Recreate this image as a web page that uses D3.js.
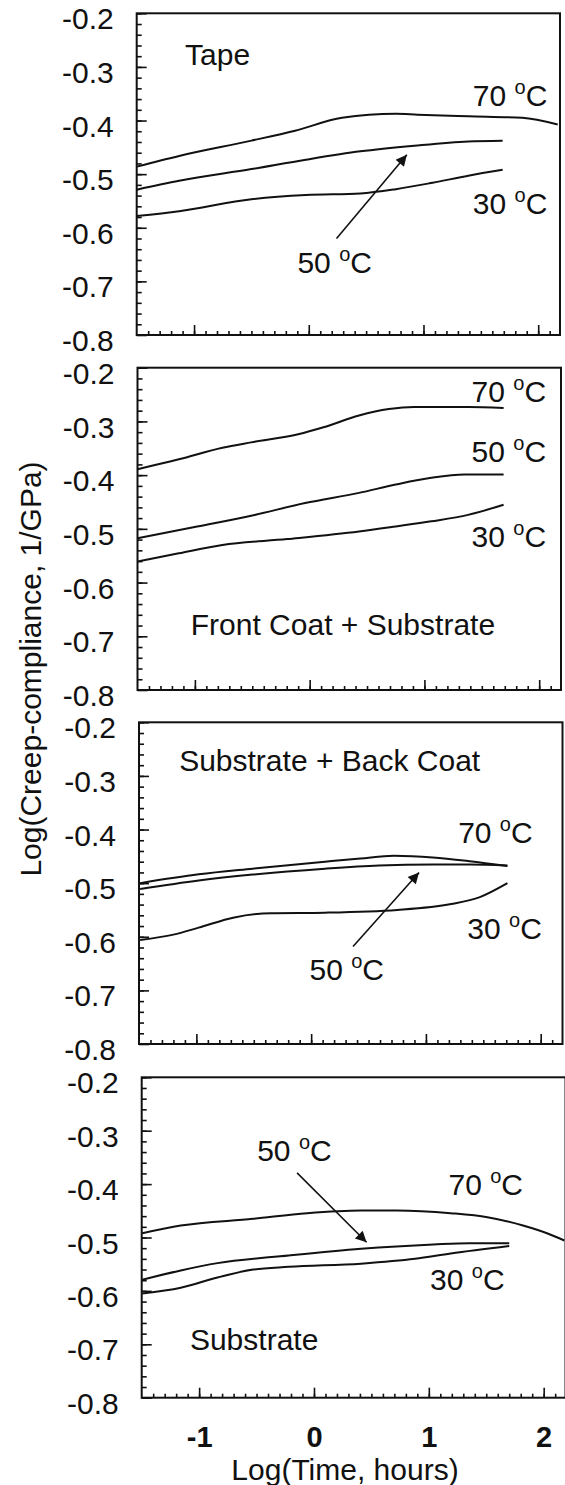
<!DOCTYPE html>
<html>
<head>
<meta charset="utf-8">
<script src="https://cdn.jsdelivr.net/npm/d3@7"></script>
<style>
  body { margin: 0; background: #fff; }
  svg text { font-family: "Liberation Sans", Arial, sans-serif; fill: #111; }
</style>
</head>
<body>
<svg id="chart" width="565" height="1485"></svg>
<script>
// data: [log time (h), log creep compliance (1/GPa)]
var panelNames = ["Tape", "Front Coat + Substrate", "Substrate + Back Coat", "Substrate"];
var temps = ["30", "50", "70"];
var xTicks = [-1, 0, 1, 2];
var yTicks = [-0.8, -0.7, -0.6, -0.5, -0.4, -0.3, -0.2];

var tape30 = [[-1.5,-0.578],[-1.13,-0.569],[-0.5,-0.547],[-0.025,-0.539],[0.45,-0.536],[0.76,-0.528],[1.08,-0.516],[1.39,-0.503],[1.69,-0.492]];
var tape50 = [[-1.5,-0.529],[-1.13,-0.5125],[-0.5,-0.4906],[-0.025,-0.473],[0.45,-0.4575],[0.92,-0.447],[1.39,-0.439],[1.69,-0.4375]];
var tape70 = [[-1.5,-0.486],[-1.13,-0.466],[-0.5,-0.4375],[-0.12,-0.419],[0.29,-0.395],[0.76,-0.3875],[0.95,-0.389],[1.39,-0.392],[1.86,-0.395],[2.17,-0.4075]];

var front30 = [[-1.5,-0.561],[-1.14,-0.5456],[-0.76,-0.53],[-0.195,-0.519],[0.43,-0.505],[0.75,-0.4956],[1.06,-0.486],[1.38,-0.474],[1.69,-0.455]];
var front50 = [[-1.5,-0.5175],[-0.98,-0.4956],[-0.51,-0.4756],[-0.04,-0.452],[0.43,-0.433],[0.75,-0.4175],[1.06,-0.405],[1.35,-0.399],[1.69,-0.399]];
var front70 = [[-1.5,-0.389],[-1.14,-0.3706],[-0.76,-0.349],[-0.51,-0.339],[-0.1,-0.324],[0.12,-0.311],[0.43,-0.289],[0.69,-0.277],[0.91,-0.273],[1.38,-0.273],[1.69,-0.275]];

var back30 = [[-1.49,-0.606],[-1.2,-0.596],[-0.98,-0.583],[-0.67,-0.564],[-0.35,-0.556],[0.12,-0.555],[0.75,-0.55],[1.22,-0.539],[1.47,-0.526],[1.71,-0.5]];
var back50 = [[-1.49,-0.511],[-0.98,-0.495],[-0.51,-0.484],[0.12,-0.473],[0.59,-0.467],[1.06,-0.465],[1.38,-0.465],[1.71,-0.467]];
var back70 = [[-1.49,-0.5],[-0.98,-0.4836],[-0.51,-0.473],[0.12,-0.46],[0.43,-0.454],[0.72,-0.449],[1.06,-0.452],[1.38,-0.459],[1.71,-0.468]];

var sub30 = [[-1.495,-0.605],[-1.16,-0.594],[-0.84,-0.575],[-0.53,-0.56],[-0.22,-0.555],[0.41,-0.549],[0.88,-0.54],[1.19,-0.53],[1.7,-0.516]];
var sub50 = [[-1.495,-0.579],[-1.16,-0.5617],[-0.84,-0.548],[-0.22,-0.5336],[0.41,-0.521],[1.04,-0.513],[1.35,-0.5106],[1.7,-0.5106]];
var sub70 = [[-1.495,-0.492],[-1.16,-0.4776],[-0.53,-0.465],[-0.06,-0.4545],[0.41,-0.4495],[0.72,-0.4495],[1.19,-0.4545],[1.51,-0.462],[1.82,-0.4776],[2.04,-0.493],[2.18,-0.5056]];

var curves = [[tape30, tape50, tape70], [front30, front50, front70], [back30, back50, back70], [sub30, sub50, sub70]];

// label placement in data units, per panel
var titlePos = [[-1.078,-0.297,"start"], [0.29,-0.698,"middle"], [-1.15,-0.291,"start"], [-1.08,-0.711,"start"]];
var tempPos = [
  [[2.08,-0.575,"end"], [0.226,-0.684,"middle"], [2.08,-0.372,"end"]],
  [[2.06,-0.533,"end"], [2.06,-0.375,"end"], [2.06,-0.263,"end"]],
  [[2.01,-0.605,"end"], [0.31,-0.68,"middle"], [1.93,-0.4245,"end"]],
  [[1.66,-0.598,"end"], [-0.17,-0.356,"middle"], [1.82,-0.42,"end"]]
];
var arrows = [[0.242,-0.62,0.855,-0.464], null, [0.365,-0.618,0.94,-0.48], [-0.147,-0.379,0.458,-0.509]];

// layout (the scan drifts a little from panel to panel)
var lefts = [136.7, 137.5, 139, 141.7];
var rights = [560, 561, 562.5, 565.5];
var tops = [13.3, 367.7, 722.3, 1077.3];
var bottoms = [335, 690, 1044, 1397.7];

var svg = d3.select("#chart");
var defs = svg.append("defs");
defs.append("marker")
  .attr("id", "head")
  .attr("viewBox", "0 0 10 10")
  .attr("refX", 10).attr("refY", 5)
  .attr("markerWidth", 19).attr("markerHeight", 11)
  .attr("markerUnits", "userSpaceOnUse")
  .attr("orient", "auto")
  .append("path").attr("d", "M0,0 L10,5 L0,10 Z").attr("fill", "#111");

function tempLabel(g, txt, px, py, anchor) {
  var t = g.append("text").attr("x", px).attr("y", py)
    .attr("text-anchor", anchor).style("font-size", "30px");
  t.append("tspan").text(txt + " ");
  t.append("tspan").text("o").style("font-size", "20px").attr("dy", -12);
  t.append("tspan").text("C").attr("dy", 12);
}

panelNames.forEach(function(name, i) {
  var x = d3.scaleLinear().domain([-1.5, 2.19]).range([lefts[i], rights[i]]);
  var y = d3.scaleLinear().domain([-0.8, -0.2]).range([bottoms[i], tops[i]]);
  var g = svg.append("g");

  defs.append("clipPath").attr("id", "clip" + i).append("rect")
    .attr("x", lefts[i]).attr("y", tops[i])
    .attr("width", rights[i] - lefts[i]).attr("height", bottoms[i] - tops[i]);

  // minor ticks
  g.append("g").attr("transform", "translate(" + lefts[i] + ",0)")
    .call(d3.axisLeft(y).tickValues(d3.range(-0.78, -0.2, 0.02)).tickSize(-5).tickFormat(""))
    .call(function(a) { a.select(".domain").remove(); });
  g.append("g").attr("transform", "translate(0," + bottoms[i] + ")")
    .call(d3.axisBottom(x).tickValues(d3.range(-1.4, 2.15, 0.1)).tickSize(-4).tickFormat(""))
    .call(function(a) { a.select(".domain").remove(); });

  // major ticks + labels
  var ya = g.append("g").attr("transform", "translate(" + lefts[i] + ",0)")
    .call(d3.axisLeft(y).tickValues(yTicks).tickSize(-10).tickPadding(23)
      .tickFormat(function(d) { return d.toFixed(1); }));
  ya.select(".domain").remove();
  ya.selectAll("text").style("font-size", "30px").attr("dy", "0.52em")
    .attr("font-family", null);

  var xa = g.append("g").attr("transform", "translate(0," + bottoms[i] + ")")
    .call(d3.axisBottom(x).tickValues(xTicks).tickSize(-10).tickPadding(29)
      .tickFormat(function(d) { return i === 3 ? String(d) : ""; }));
  xa.select(".domain").remove();
  xa.selectAll("text").style("font-size", "29px").style("font-weight", "bold")
    .attr("font-family", null);
  g.selectAll(".tick line").attr("stroke", "#111").attr("stroke-width", 1.6);

  // frame
  g.append("rect").attr("x", lefts[i]).attr("y", tops[i])
    .attr("width", rights[i] - lefts[i]).attr("height", bottoms[i] - tops[i])
    .attr("fill", "none").attr("stroke", "#111").attr("stroke-width", 2);

  var line = d3.line().x(function(d) { return x(d[0]); }).y(function(d) { return y(d[1]); })
    .curve(d3.curveMonotoneX);
  g.append("g").attr("clip-path", "url(#clip" + i + ")")
    .selectAll("path").data(curves[i]).enter().append("path")
    .attr("d", line).attr("fill", "none").attr("stroke", "#111").attr("stroke-width", 2);

  g.append("text").attr("x", x(titlePos[i][0])).attr("y", y(titlePos[i][1]))
    .attr("text-anchor", titlePos[i][2]).style("font-size", "30px").text(name);

  temps.forEach(function(tp, k) {
    var p = tempPos[i][k];
    tempLabel(g, tp, x(p[0]), y(p[1]), p[2]);
  });

  if (arrows[i]) {
    var a = arrows[i];
    g.append("line").attr("x1", x(a[0])).attr("y1", y(a[1]))
      .attr("x2", x(a[2])).attr("y2", y(a[3]))
      .attr("stroke", "#111").attr("stroke-width", 1.6)
      .attr("marker-end", "url(#head)");
  }
});

svg.append("text").attr("x", 345).attr("y", 1480).attr("text-anchor", "middle")
  .style("font-size", "30px").text("Log(Time, hours)");
svg.append("text").attr("transform", "translate(30,669) rotate(-90)")
  .attr("text-anchor", "middle").attr("dominant-baseline", "central")
  .style("font-size", "30px").text("Log(Creep-compliance, 1/GPa)");
</script>
</body>
</html>
